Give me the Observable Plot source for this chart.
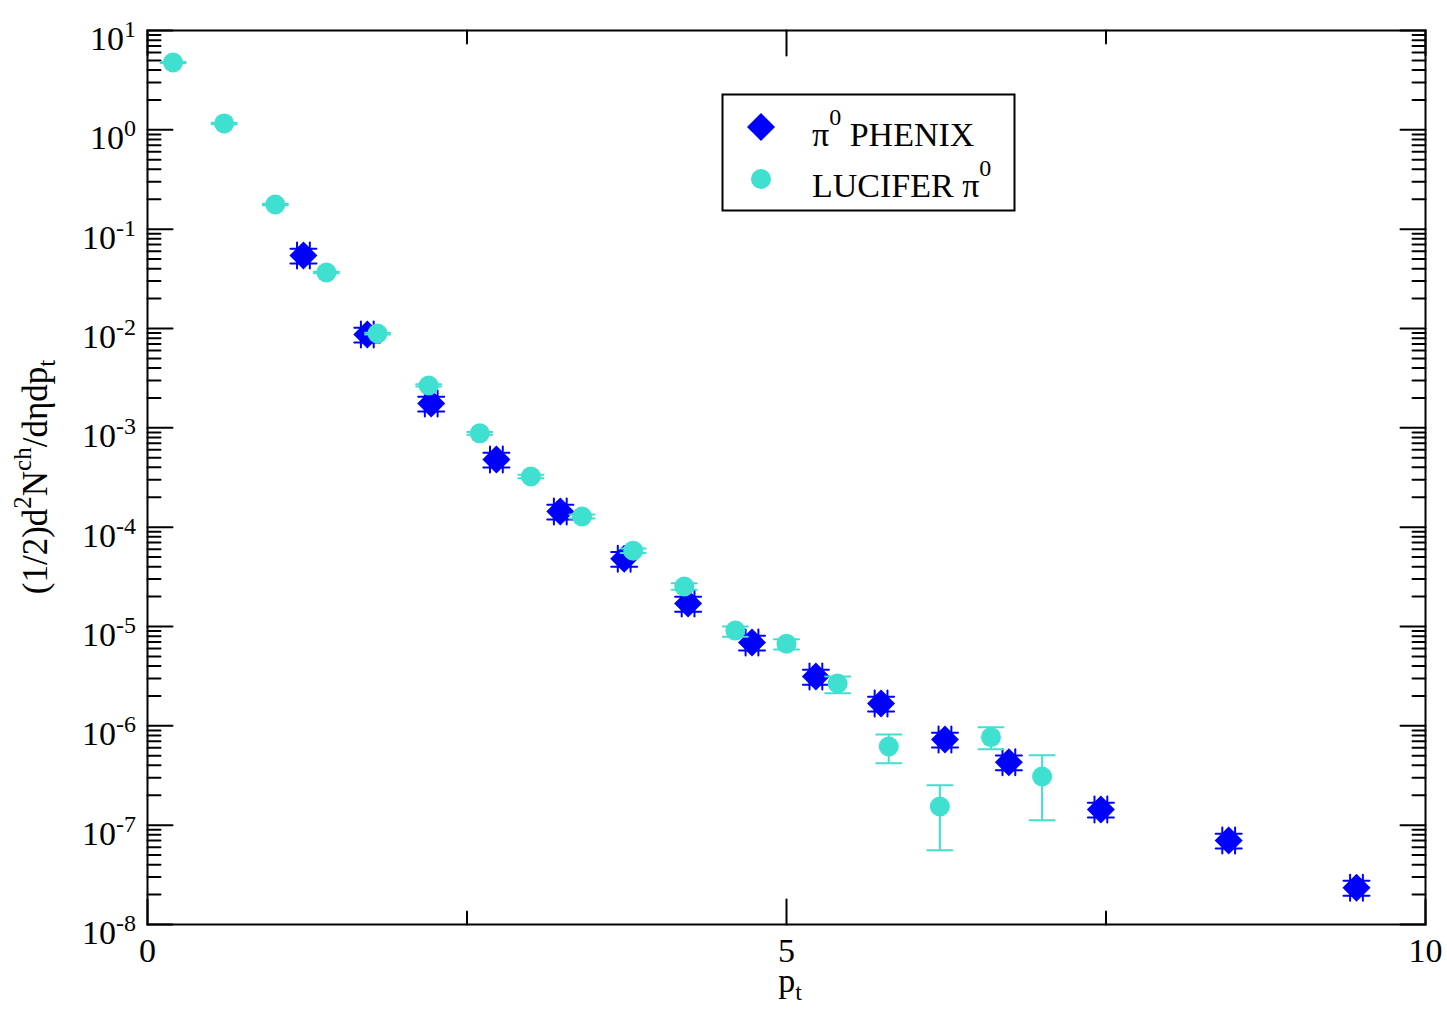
<!DOCTYPE html>
<html><head><meta charset="utf-8">
<script src="https://cdn.jsdelivr.net/npm/d3@7"></script>
<script src="https://cdn.jsdelivr.net/npm/@observablehq/plot@0.6"></script>
<style>
html,body{margin:0;padding:0;background:#fff;overflow:hidden;}
#chart{width:1447px;height:1009px;}
</style>
</head><body><div id="chart"></div>
<script>
// ---- data ----
const phenixPt = [1.22, 1.72, 2.22, 2.73, 3.23, 3.73, 4.23, 4.73, 5.23, 5.74, 6.24, 6.74, 7.46, 8.46, 9.46];
const phenixY  = [0.0543, 0.0087, 0.00176, 4.8e-4, 1.44e-4, 4.8e-5, 1.7e-5, 6.9e-6, 3.13e-6, 1.68e-6, 7.3e-7, 4.3e-7, 1.44e-7, 7.0e-8, 2.35e-8];
const phenixRelErr = [0.17, 0.17, 0.17, 0.17, 0.17, 0.17, 0.17, 0.17, 0.17, 0.17, 0.17, 0.17, 0.17, 0.17, 0.17];
const phenixPtErr  = [0.05, 0.05, 0.05, 0.05, 0.05, 0.05, 0.05, 0.05, 0.05, 0.05, 0.05, 0.05, 0.05, 0.05, 0.05];

const luciferPt = [0.2, 0.6, 1.0, 1.4, 1.8, 2.2, 2.6, 3.0, 3.4, 3.8, 4.2, 4.6, 5.0, 5.4, 5.8, 6.2, 6.6, 7.0];
const luciferY  = [4.76, 1.16, 0.177, 0.0366, 0.0089, 0.00267, 8.8e-4, 3.24e-4, 1.28e-4, 5.8e-5, 2.53e-5, 9.1e-6, 6.7e-6, 2.67e-6, 6.19e-7, 1.54e-7, 7.69e-7, 3.09e-7];
const luciferLo = [4.70, 1.14, 0.174, 0.0359, 0.00872, 0.00260, 8.5e-4, 3.1e-4, 1.22e-4, 5.5e-5, 2.34e-5, 7.9e-6, 5.86e-6, 2.13e-6, 4.2e-7, 5.6e-8, 5.8e-7, 1.12e-7];
const luciferHi = [4.82, 1.18, 0.180, 0.0373, 0.00908, 0.00274, 9.1e-4, 3.38e-4, 1.34e-4, 6.1e-5, 2.73e-5, 1.0e-5, 7.45e-6, 3.14e-6, 8.2e-7, 2.52e-7, 9.7e-7, 5.06e-7];

const xMajorTicks = [0, 5, 10];
const xMinorTicks = [2.5, 7.5];
const yDecades = [-8, -7, -6, -5, -4, -3, -2, -1, 0, 1];
const yMinorMultipliers = [2, 3, 4, 5, 6, 7, 8, 9];

const BLUE = "#0000ff";
const TURQ = "#40e0d0";
const FONT = "'Liberation Serif', 'Times New Roman', serif";

// ---- derived tables ----
const phenix = phenixPt.map((x, i) => ({
  x, y: phenixY[i], xe: phenixPtErr[i],
  lo: phenixY[i] * (1 - phenixRelErr[i]), hi: phenixY[i] * (1 + phenixRelErr[i])
}));
const lucifer = luciferPt.map((x, i) => ({x, y: luciferY[i], lo: luciferLo[i], hi: luciferHi[i]}));
const yMajor = yDecades.map(d => Math.pow(10, d));
const yMinor = [];
yDecades.slice(0, -1).forEach(d => yMinorMultipliers.forEach(m => yMinor.push(m * Math.pow(10, d))));

const line = {draw(ctx, l) { ctx.moveTo(0, 0); ctx.lineTo(0, -l); }};
const tickOpts = (len) => ({length: len, shape: line, anchor: "start", stroke: "black", strokeWidth: 2});

const plot = Plot.plot({
  width: 1447, height: 1009,
  marginLeft: 147, marginRight: 22, marginTop: 30, marginBottom: 85,
  x: {domain: [0, 10], axis: null},
  y: {type: "log", domain: [1e-8, 10], axis: null},
  style: {fontFamily: FONT, background: "white", overflow: "visible"},
  marks: [
    // axis ticks (inward, mirrored)
    Plot.vector(yMajor, {x: () => 0, y: d => d, rotate: 90, ...tickOpts(25)}),
    Plot.vector(yMinor, {x: () => 0, y: d => d, rotate: 90, ...tickOpts(13)}),
    Plot.vector(yMajor, {x: () => 10, y: d => d, rotate: -90, ...tickOpts(25)}),
    Plot.vector(yMinor, {x: () => 10, y: d => d, rotate: -90, ...tickOpts(13)}),
    Plot.vector(xMajorTicks, {x: d => d, y: () => 1e-8, rotate: 0, ...tickOpts(25)}),
    Plot.vector(xMinorTicks, {x: d => d, y: () => 1e-8, rotate: 0, ...tickOpts(13)}),
    Plot.vector(xMajorTicks, {x: d => d, y: () => 10, rotate: 180, ...tickOpts(25)}),
    Plot.vector(xMinorTicks, {x: d => d, y: () => 10, rotate: 180, ...tickOpts(13)}),
    Plot.frame({stroke: "black", strokeWidth: 2}),
    // x tick labels
    Plot.text(xMajorTicks, {x: d => d, y: () => 1e-8, text: d => String(d),
      dy: 27, fontSize: 34, fontFamily: FONT, fill: "black"}),
    // PHENIX error bars
    Plot.ruleY(phenix, {y: "y", x1: d => d.x - d.xe, x2: d => d.x + d.xe, stroke: BLUE, strokeWidth: 2}),
    Plot.ruleX(phenix, {x: "x", y1: "lo", y2: "hi", stroke: BLUE, strokeWidth: 2}),
    Plot.vector(phenix, {x: "x", y: "lo", rotate: 90, length: 26, anchor: "middle", shape: line, stroke: BLUE, strokeWidth: 2}),
    Plot.vector(phenix, {x: "x", y: "hi", rotate: 90, length: 26, anchor: "middle", shape: line, stroke: BLUE, strokeWidth: 2}),
    Plot.vector(phenix, {x: d => d.x - d.xe, y: "y", rotate: 0, length: 26, anchor: "middle", shape: line, stroke: BLUE, strokeWidth: 2}),
    Plot.vector(phenix, {x: d => d.x + d.xe, y: "y", rotate: 0, length: 26, anchor: "middle", shape: line, stroke: BLUE, strokeWidth: 2}),
    Plot.dot(phenix, {x: "x", y: "y", symbol: "diamond2", r: 12.6, fill: BLUE}),
    // LUCIFER error bars
    Plot.ruleX(lucifer, {x: "x", y1: "lo", y2: "hi", stroke: TURQ, strokeWidth: 2}),
    Plot.vector(lucifer, {x: "x", y: "lo", rotate: 90, length: 25, anchor: "middle", shape: line, stroke: TURQ, strokeWidth: 2}),
    Plot.vector(lucifer, {x: "x", y: "hi", rotate: 90, length: 25, anchor: "middle", shape: line, stroke: TURQ, strokeWidth: 2}),
    Plot.dot(lucifer, {x: "x", y: "y", r: 10, fill: TURQ})
  ]
});

const svg = d3.select(plot);
const sx = plot.scale("x"), sy = plot.scale("y");
const X0 = sx.apply(0), YB = sy.apply(1e-8);

// y tick labels 10^n (positions from the plot's y scale)
const yt = svg.append("g").attr("font-family", FONT).attr("font-size", 34)
  .attr("fill", "black").attr("text-anchor", "end");
yDecades.forEach(d => {
  const t = yt.append("text").attr("x", X0 - 11).attr("y", sy.apply(Math.pow(10, d)) + 20);
  t.append("tspan").text("10");
  t.append("tspan").attr("dy", -13).attr("font-size", 24).text(String(d));
});

// x label p_t
const xl = svg.append("text").attr("x", sx.apply(5) + 4).attr("y", YB + 68)
  .attr("text-anchor", "middle").attr("font-family", FONT).attr("font-size", 34).attr("fill", "black");
xl.append("tspan").text("p");
xl.append("tspan").attr("dy", 8).attr("font-size", 24).text("t");

// y label
const yl = svg.append("text")
  .attr("transform", "translate(47,477) rotate(-90)")
  .attr("text-anchor", "middle")
  .attr("font-family", FONT).attr("font-size", 35).attr("fill", "black");
yl.append("tspan").text("(1/2)d");
yl.append("tspan").attr("dy", -16).attr("font-size", 25).text("2");
yl.append("tspan").attr("dy", 16).text("N");
yl.append("tspan").attr("dy", -16).attr("font-size", 25).text("ch");
yl.append("tspan").attr("dy", 16).text("/dηdp");
yl.append("tspan").attr("dy", 8).attr("font-size", 25).text("t");

// legend
const lg = svg.append("g").attr("font-family", FONT).attr("fill", "black").attr("text-anchor", "start");
lg.append("rect").attr("x", 722.5).attr("y", 94.5).attr("width", 292).attr("height", 116)
  .attr("fill", "white").attr("stroke", "black").attr("stroke-width", 2);
lg.append("path").attr("d", "M761,113L775,127L761,141L747,127Z").attr("fill", BLUE);
lg.append("circle").attr("cx", 761).attr("cy", 179).attr("r", 10).attr("fill", TURQ);
const t1 = lg.append("text").attr("x", 812).attr("y", 146).attr("font-size", 34);
t1.append("tspan").text("π");
t1.append("tspan").attr("dy", -21).attr("font-size", 24).text("0");
t1.append("tspan").attr("dy", 21).text(" PHENIX");
const t2 = lg.append("text").attr("x", 812).attr("y", 197).attr("font-size", 34);
t2.append("tspan").text("LUCIFER π");
t2.append("tspan").attr("dy", -21).attr("font-size", 24).text("0");

document.getElementById("chart").appendChild(plot);
</script>
</body></html>
